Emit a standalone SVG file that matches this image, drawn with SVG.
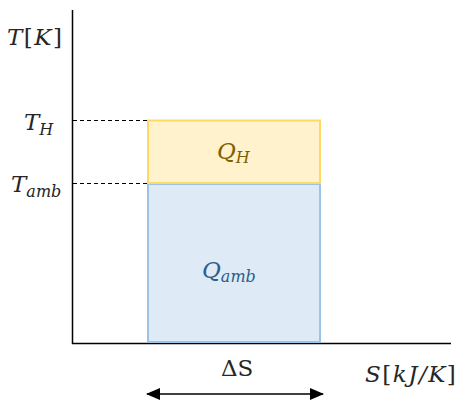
<svg xmlns="http://www.w3.org/2000/svg" width="458" height="403" viewBox="0 0 458 403">
<defs>
<style>
.m{font-family:"DejaVu Serif","Liberation Serif",serif;font-style:italic;font-size:23px;fill:#262626}
.sub{font-size:16px}
.up{font-style:normal}
.sp{letter-spacing:1.5px}
.axis{stroke:#000;stroke-width:1.5;fill:none}
.dash{stroke:#000;stroke-width:1;stroke-dasharray:4,3;fill:none}
</style>
<marker id="ah" viewBox="0 0 14 12" refX="13" refY="6" markerWidth="14" markerHeight="12" markerUnits="userSpaceOnUse" orient="auto-start-reverse">
<path d="M0,0 L14,6 L0,12 z" fill="#000"/>
</marker>
</defs>
<g id="connectors">
<line class="axis" x1="72.5" y1="10" x2="72.5" y2="344"/>
<line class="axis" x1="72" y1="343.5" x2="451" y2="343.5"/>
<line class="dash" x1="73" y1="120.5" x2="147" y2="120.5"/>
<line class="dash" x1="73" y1="183.5" x2="147" y2="183.5"/>
<line x1="147" y1="394" x2="323" y2="394" stroke="#000" stroke-width="1.5" marker-start="url(#ah)" marker-end="url(#ah)"/>
</g>
<g id="qamb">
<rect x="148" y="184" width="172" height="158" fill="#DEEBF7" stroke="#9DC3E6" stroke-width="2"/>
<text class="m" x="202" y="278" style="fill:#2F5D8C">Q<tspan class="sub" dy="4">amb</tspan></text>
</g>
<g id="qh">
<rect x="148" y="120.5" width="172" height="62.5" fill="#FFF2CC" stroke="#FFD966" stroke-width="2"/>
<text class="m" x="217" y="159" style="fill:#7F6000">Q<tspan class="sub" dy="4">H</tspan></text>
</g>
<g id="labels">
<text class="m sp" x="7" y="45">T<tspan class="up">[</tspan>K<tspan class="up">]</tspan></text>
<text class="m" x="24" y="130">T<tspan class="sub" dy="5">H</tspan></text>
<text class="m" x="11" y="192">T<tspan class="sub" dy="5">amb</tspan></text>
<text class="m" x="221" y="376" style="font-style:normal">ΔS</text>
<text class="m sp" x="365" y="382">S<tspan class="up">[</tspan>kJ/K<tspan class="up">]</tspan></text>
</g>
</svg>
